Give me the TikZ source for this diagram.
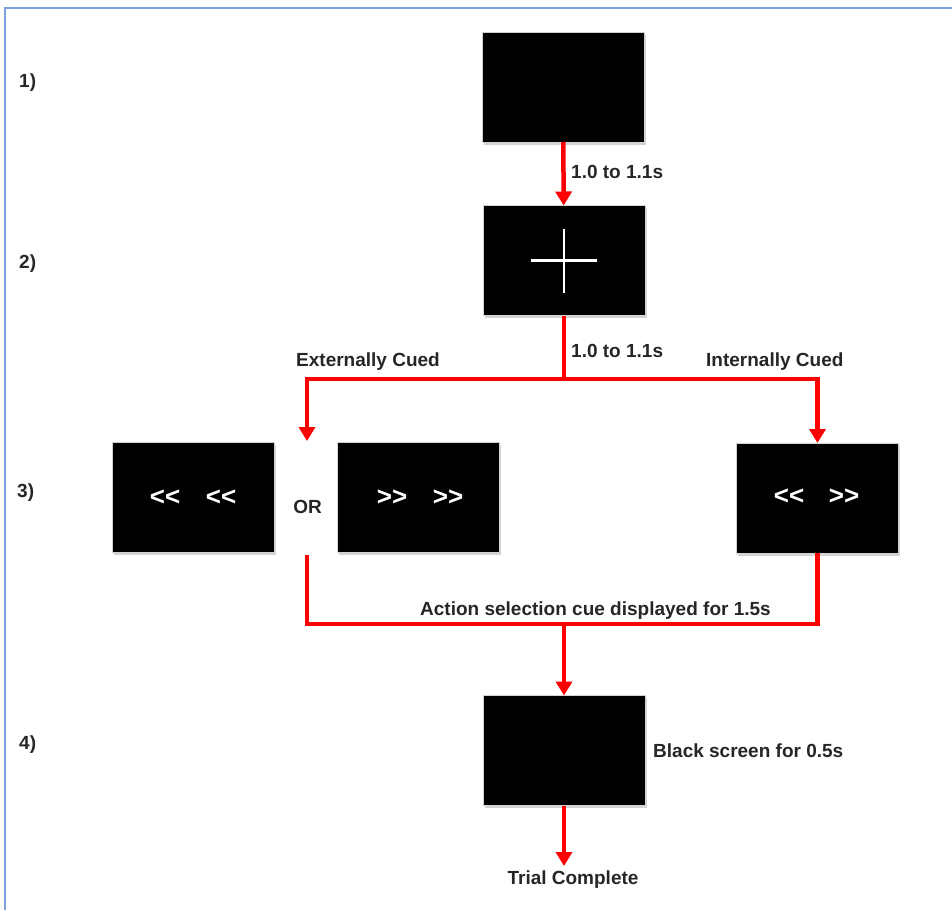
\documentclass[tikz,border=0pt]{standalone}
\usepackage{fontspec}
\setmainfont{Liberation Sans}
\usetikzlibrary{arrows.meta,shadows}
\tikzset{
  screen/.style={rectangle, fill=black, draw=gray!35, line width=0.8pt, inner sep=0pt, outer sep=0pt,
    minimum width=162pt, minimum height=110pt,
    drop shadow={shadow xshift=1.5pt, shadow yshift=-2.5pt, opacity=0.35, fill=gray}},
  lbl/.style={font=\fontsize{19}{22}\selectfont\bfseries, inner sep=0pt, text=black!85},
  chev/.style={font=\fontsize{26}{28}\selectfont\bfseries, inner sep=0pt, text=white},
  redline/.style={draw=red, line width=4.5pt},
  redarrow/.style={redline, -{Triangle[width=16pt,length=14pt]}},
}
\begin{document}
\begin{tikzpicture}[x=1pt,y=-1pt]
\useasboundingbox (0,0) rectangle (952,910);
\draw[color={rgb,255:red,125;green,160;blue,220}, line width=1.5pt] (5,910) -- (5,8) -- (952,8);

% row labels
\node[lbl, anchor=west] (r1) at (19,83) {1)};
\node[lbl, anchor=west] (r2) at (19,264) {2)};
\node[lbl, anchor=west] (r3) at (17,493) {3)};
\node[lbl, anchor=west] (r4) at (19,745) {4)};

% screens
\node[screen] (b1) at (563,87) {};
\node[screen] (b2) at (564,260.5) {};
\node[screen] (b3a) at (193.5,497) {};
\node[screen] (b3b) at (418.5,497.5) {};
\node[screen] (b3c) at (817.5,498) {};
\node[screen] (b4) at (564,750.5) {};

% fixation cross
\draw[white, line width=2.5pt] (b2.center) ++(-33,0) -- ++(66,0);
\draw[white, line width=2.5pt] (b2.center) ++(0,-32) -- ++(0,64);

% chevrons
\node[chev] (c1) at (165,498) {<{}<};
\node[chev] (c2) at (221,498) {<{}<};
\node[chev] (c3) at (392,498) {>{}>};
\node[chev] (c4) at (448,498) {>{}>};
\node[chev] (c5) at (789,497) {<{}<};
\node[chev] (c6) at (844,497) {>{}>};

% labels
\node[lbl, anchor=west] (t1) at (571,172) {1.0 to 1.1s};
\node[lbl, anchor=west] (t2) at (571,351) {1.0 to 1.1s};
\node[lbl, anchor=west] (ext) at (296,362) {Externally Cued};
\node[lbl, anchor=west] (int) at (706,362) {Internally Cued};
\node[lbl] (or) at (307.5,507) {OR};
\node[lbl, anchor=west] (act) at (420,611) {Action selection cue displayed for 1.5s};
\node[lbl, anchor=west] (blk) at (653,751) {Black screen for 0.5s};
\node[lbl] (done) at (573,880) {Trial Complete};

% connectors
\coordinate (j1) at (564,379);
\coordinate (la) at (307,441);
\coordinate (lb) at (307,555);
\coordinate (j2) at (564,624);
\coordinate (fin) at (564,866);

\draw[redarrow] (b1) -- (b2);
\draw[redline] (b2.south) -- (j1);
\draw[redarrow] (j1) -| (la);
\draw[redarrow] (j1) -| (b3c.north);
\draw[redline] (lb) |- (j2) -| (b3c.south);
\draw[redarrow] (j2) -- (b4.north);
\draw[redarrow] (b4.south) -- (fin);
\end{tikzpicture}
\end{document}
